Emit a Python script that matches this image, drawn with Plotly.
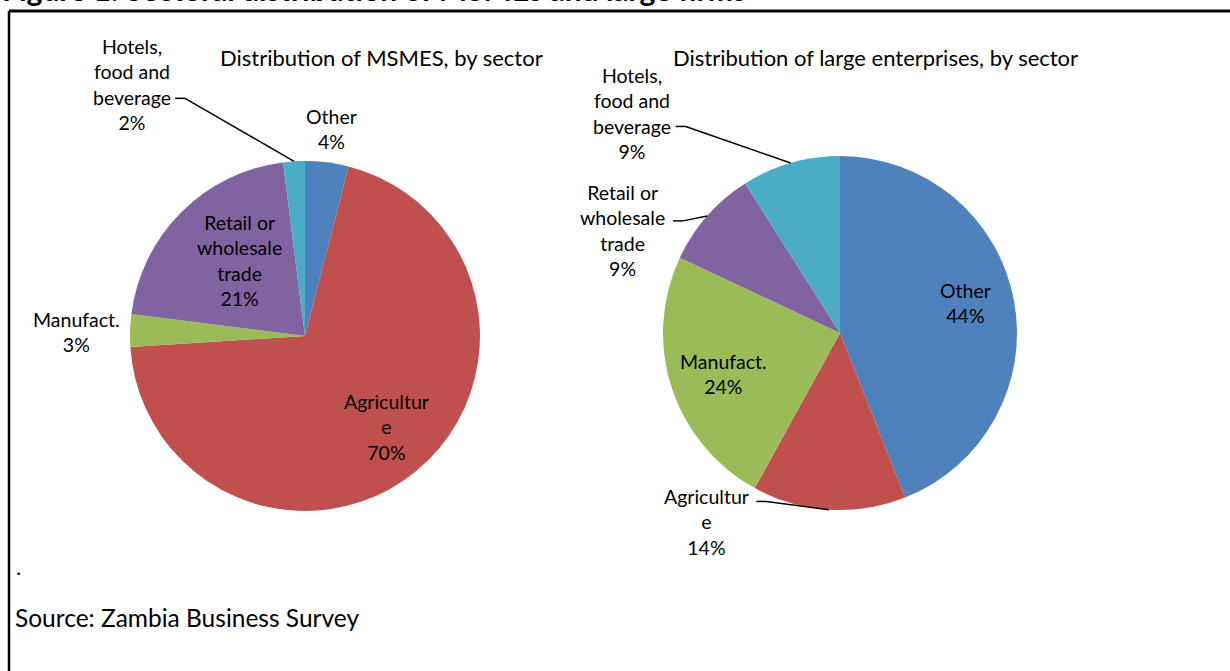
import math
import plotly.graph_objects as go

# ---- data -------------------------------------------------------------
sectors = ["Other", "Agriculture", "Manufact.", "Retail or wholesale trade",
           "Hotels, food and beverage"]
label_lines = ["Other", "Agricultur<br>e", "Manufact.",
               "Retail or<br>wholesale<br>trade", "Hotels,<br>food and<br>beverage"]
msme_share = [4, 70, 3, 21, 2]
large_share = [44, 14, 24, 9, 9]
colors = ["#4F81BD", "#C0504D", "#9BBB59", "#8064A2", "#4BACC6"]

title_msme = "Distribution of MSMES, by sector"
title_large = "Distribution of large enterprises, by sector"
fig_title = "Figure 1: Sectoral distribution of MSMEs and large firms"
source_note = "Source: Zambia Business Survey"

# ---- layout geometry (pixels) -------------------------------------------
W, H = 1230, 671
FONT = "Lato, Carlito, Calibri, sans-serif"
LABEL_SIZE = 19.5

pies = [
    dict(values=msme_share, cx=305, cy=336, r=175, title=title_msme, tx=381,
         # label placement: (angle clockwise from 12 o'clock or None=mid-slice,
         #                   radius factor, leader start offset or None)
         place=[(None, 1.19, None), (138, 0.70, None), (271, 1.305, None),
                (319, 0.57, None), (325.5, 1.745, (43, 14))]),
    dict(values=large_share, cx=840, cy=333, r=177, title=title_large, tx=875,
         place=[(76.5, 0.73, None), (215.2, 1.31, (50, -21)), (250.7, 0.70, None),
                (295.2, 1.355, (50, -10)), (316.5, 1.71, (44, 13))]),
]


def px(x):
    return x / W


def py(y):
    return 1 - y / H


def polar(cx, cy, r, ang):
    a = math.radians(ang)
    return cx + r * math.sin(a), cy - r * math.cos(a)


fig = go.Figure()
annotations = []
shapes = []

for p in pies:
    cx, cy, r = p["cx"], p["cy"], p["r"]
    fig.add_trace(go.Pie(
        labels=sectors, values=p["values"], sort=False, direction="clockwise",
        rotation=0, textinfo="none", hoverinfo="label+percent",
        marker=dict(colors=colors, line=dict(color="white", width=0)),
        domain=dict(x=[px(cx - r), px(cx + r)], y=[py(cy + r), py(cy - r)]),
        showlegend=False,
    ))
    annotations.append(dict(
        text=p["title"], x=px(p["tx"]), y=py(57), xref="paper", yref="paper",
        xanchor="center", yanchor="middle", showarrow=False,
        font=dict(family=FONT, size=22, color="black")))

    total = sum(p["values"])
    cum = 0
    for val, txt, (ang, rf, lead) in zip(p["values"], label_lines, p["place"]):
        mid = (cum + val / 2) / total * 360
        cum += val
        la = mid if ang is None else ang
        lx, ly = polar(cx, cy, r * rf, la)
        annotations.append(dict(
            text=f"{txt}<br>{round(val / total * 100)}%", x=px(lx), y=py(ly),
            xref="paper", yref="paper", xanchor="center", yanchor="middle",
            showarrow=False, align="center",
            font=dict(family=FONT, size=LABEL_SIZE, color="black")))
        if lead is not None:
            sx, sy = lx + lead[0], ly + lead[1]
            ex, ey = polar(cx, cy, r, mid)
            shapes.append(dict(type="line", xref="paper", yref="paper",
                               x0=px(sx), y0=py(sy), x1=px(sx + 10), y1=py(sy),
                               line=dict(color="black", width=1.5)))
            shapes.append(dict(type="line", xref="paper", yref="paper",
                               x0=px(sx + 10), y0=py(sy), x1=px(ex), y1=py(ey),
                               line=dict(color="black", width=1.5)))

# frame around the figure
shapes.append(dict(type="line", xref="paper", yref="paper",
                   x0=px(9), y0=py(11), x1=px(W + 5), y1=py(11),
                   line=dict(color="black", width=3)))
shapes.append(dict(type="line", xref="paper", yref="paper",
                   x0=px(9), y0=py(11), x1=px(9), y1=py(H + 5),
                   line=dict(color="black", width=2.5)))

# figure caption (runs above the frame) and notes
annotations.append(dict(
    text=f"<b>{fig_title}</b>", x=px(0), y=py(9), xref="paper", yref="paper",
    xanchor="left", yanchor="bottom", showarrow=False,
    font=dict(family=FONT, size=30, color="black")))
annotations.append(dict(
    text=".", x=px(14), y=py(566), xref="paper", yref="paper",
    xanchor="left", yanchor="middle", showarrow=False,
    font=dict(family=FONT, size=22, color="black")))
annotations.append(dict(
    text=source_note, x=px(13), y=py(617), xref="paper", yref="paper",
    xanchor="left", yanchor="middle", showarrow=False,
    font=dict(family=FONT, size=24.5, color="black")))

fig.update_layout(
    width=W, height=H, margin=dict(l=0, r=0, t=0, b=0),
    paper_bgcolor="white", plot_bgcolor="white",
    annotations=annotations, shapes=shapes,
)

fig.write_html("out.html")
